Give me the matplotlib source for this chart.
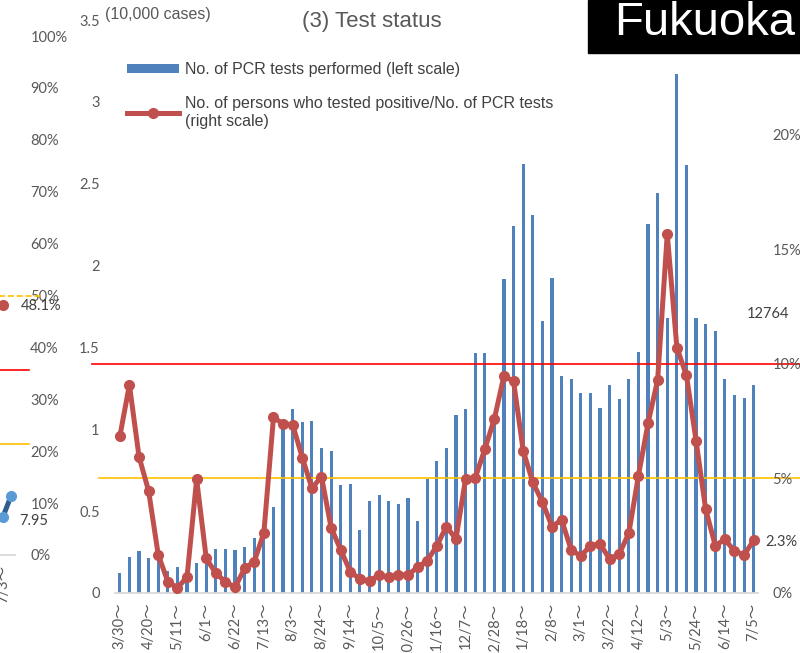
import matplotlib
matplotlib.use("Agg")
import matplotlib.pyplot as plt
from matplotlib.patches import Rectangle, Patch
from matplotlib.lines import Line2D
import numpy as np

W, H, DPI = 800, 653, 100

# Weekly PCR tests (10,000 cases), weeks starting 3/30/2020 ... 7/5/2021
tests = [0.124, 0.221, 0.254, 0.211, 0.20, 0.136, 0.157, 0.11, 0.183, 0.22,
         0.268, 0.266, 0.264, 0.283, 0.334, 0.37, 0.524, 1.045, 1.121, 1.047,
         1.051, 0.884, 0.866, 0.660, 0.664, 0.386, 0.565, 0.596, 0.561, 0.545,
         0.579, 0.441, 0.699, 0.805, 0.884, 1.087, 1.124, 1.468, 1.468, 1.05,
         1.917, 2.242, 2.620, 2.307, 1.659, 1.927, 1.323, 1.305, 1.224, 1.224,
         1.132, 1.268, 1.185, 1.309, 1.471, 2.252, 2.445, 1.677, 3.173, 2.614,
         1.677, 1.646, 1.598, 1.309, 1.212, 1.193, 1.270]

# Positive rate (%) per week
positivity = [6.83, 9.08, 5.95, 4.45, 1.67, 0.50, 0.22, 0.70, 4.96, 1.51,
              0.86, 0.49, 0.25, 1.08, 1.37, 2.63, 7.66, 7.38, 7.34, 5.91,
              4.57, 5.08, 2.85, 1.88, 0.93, 0.61, 0.52, 0.79, 0.69, 0.79,
              0.79, 1.12, 1.41, 2.05, 2.90, 2.36, 4.98, 5.01, 6.27, 7.60,
              9.48, 9.23, 6.21, 4.83, 3.97, 2.90, 3.19, 1.88, 1.61, 2.07,
              2.14, 1.48, 1.70, 2.61, 5.12, 7.41, 9.30, 15.66, 10.71, 9.49,
              6.64, 3.65, 2.07, 2.34, 1.83, 1.66, 2.3]

week_labels = ["3/30～", "4/20～", "5/11～", "6/1～", "6/22～", "7/13～", "8/3～",
               "8/24～", "9/14～", "10/5～", "10/26～", "11/16～", "12/7～",
               "12/28～", "1/18～", "2/8～", "3/1～", "3/22～", "4/12～", "5/3～",
               "5/24～", "6/14～", "7/5～"]
label_step = 3

left_ticks = [0, 0.5, 1, 1.5, 2, 2.5, 3, 3.5]
left_tick_labels = ["0", "0.5", "1", "1.5", "2", "2.5", "3", "3.5"]
right_ticks = [0, 5, 10, 15, 20]
right_tick_labels = ["0%", "5%", "10%", "15%", "20%"]
rate_alert, rate_caution = 10, 5

# Neighbouring panel (only its right edge is in view)
prev_x = [-1, 0]
prev_cases = [5.17, 7.95]
prev_occupancy_x = [-1]
prev_occupancy = [48.1]
prev_tick_label = "7/3～"
prev_pct_ticks = list(range(0, 101, 10))
prev_stage_lines = [25, 15]

BAR = "#4f81bd"
LINE = "#c0504d"
TICK = "#595959"
TXT = "#404040"
TICKFONT = ["Lato", "Noto Sans CJK JP", "DejaVu Sans"]
ARIAL = ["Liberation Sans", "DejaVu Sans"]
TICKSIZE = 10.5

fig = plt.figure(figsize=(W / DPI, H / DPI), dpi=DPI)


def fx(px):
    return px / W


def fy(py):
    return 1 - py / H


# ---------------- main panel ----------------
ax = fig.add_axes([fx(115), fy(593), 643.5 / W, (593 - 20) / H])
x = np.arange(len(tests))
ax.bar(x, tests, width=0.33, color=BAR, zorder=2)
ax.set_xlim(-0.5, len(tests) - 0.5)
ax.set_ylim(0, 3.5)
ax.set_yticks(left_ticks)
ax.set_yticklabels(left_tick_labels)
ax.set_xticks(x[::label_step])
ax.set_xticklabels(week_labels, rotation=90, va="top", ha="center")
for s in ["top", "left", "right"]:
    ax.spines[s].set_visible(False)
ax.spines["bottom"].set_color("#d9d9d9")
ax.spines["bottom"].set_linewidth(1.3)
ax.tick_params(axis="both", length=0, colors=TICK)
ax.tick_params(axis="y", pad=11)
ax.tick_params(axis="x", pad=7)
for t in ax.get_yticklabels() + ax.get_xticklabels():
    t.set_fontfamily(TICKFONT)
    t.set_fontsize(TICKSIZE)
    t.set_color(TICK)

ax2 = ax.twinx()
ax2.set_ylim(0, 25)
ax2.set_yticks(right_ticks)
ax2.set_yticklabels(right_tick_labels)
for s in ["top", "left", "right", "bottom"]:
    ax2.spines[s].set_visible(False)
ax2.tick_params(axis="y", length=0, pad=10, colors=TICK)
for t in ax2.get_yticklabels():
    t.set_fontfamily(TICKFONT)
    t.set_fontsize(TICKSIZE)
    t.set_ha("left")

ax2.axhline(rate_alert, xmin=(92 - 115) / 643.5, xmax=(800 - 115) / 643.5,
            color="#ff0000", lw=1.2, clip_on=False, zorder=1)
ax2.axhline(rate_caution, xmin=(99 - 115) / 643.5, xmax=(800 - 115) / 643.5,
            color="#ffc000", lw=1.2, clip_on=False, zorder=1)
ax2.plot(x, positivity, color=LINE, lw=3.6, marker="o", ms=7,
         solid_joinstyle="round", zorder=3, clip_on=False)
ax2.annotate(f"{positivity[-1]:.1f}%", (x[-1], positivity[-1]),
             xytext=(12, -2), textcoords="offset pixels", ha="left",
             va="center", fontsize=TICKSIZE, color=TXT, family=TICKFONT,
             annotation_clip=False)

# legend
handles = [Patch(facecolor=BAR, edgecolor="none"),
           Line2D([], [], color=LINE, lw=3.6, marker="o", ms=7)]
labels = ["No. of PCR tests performed (left scale)",
          "No. of persons who tested positive/No. of PCR tests\n(right scale)"]
leg = fig.legend(handles, labels, loc="upper left",
                 bbox_to_anchor=(fx(127), fy(62)), frameon=False,
                 borderpad=0, borderaxespad=0, handlelength=3.25,
                 handleheight=0.55, handletextpad=0.38, labelspacing=1.2,
                 prop={"family": ARIAL, "size": 11.5})
for t in leg.get_texts():
    t.set_color(TXT)

# titles and labels
fig.text(fx(372), fy(21), "(3) Test status", ha="center", va="center",
         fontsize=16, color=TICK, family=ARIAL)
fig.text(fx(105), fy(14), "(10,000 cases)", ha="left", va="center",
         fontsize=11.5, color=TICK, family=ARIAL)
fig.text(fx(747), fy(314), "12764", ha="left", va="center",
         fontsize=TICKSIZE, color=TXT, family=TICKFONT)
fig.patches.append(Rectangle((fx(588), fy(53)), 212 / W, 53 / H,
                             transform=fig.transFigure, color="black",
                             zorder=5))
fig.text(fx(705), fy(23), "Fukuoka", ha="center", va="center",
         fontsize=34, color="white", family=ARIAL, zorder=6)

# ---------------- neighbouring panel (clipped at left edge) ----------------
axp = fig.add_axes([fx(-400), fy(555), 415 / W, (555 - 36) / H])
axp.set_xlim(-51.375, 0.5)
axp.set_ylim(0, 70)
axp.plot(prev_x, prev_cases, color="#2e5f8f", lw=3.6, marker="o", ms=7,
         mfc="#5b9bd5", mec="#5b9bd5", zorder=3, clip_on=False)
axp.axhline(prev_stage_lines[0], xmax=(29 + 400) / 415, color="#ff0000",
            lw=1.2, clip_on=False)
axp.axhline(prev_stage_lines[1], xmax=(29 + 400) / 415, color="#ffc000",
            lw=1.2, clip_on=False)
axp.annotate(f"{prev_cases[-1]:.2f}", (prev_x[-1], prev_cases[-1]),
             xytext=(8, -25), textcoords="offset pixels", ha="left",
             va="center", fontsize=TICKSIZE, color=TXT, family=TICKFONT,
             annotation_clip=False)
axp.set_yticks([])
axp.set_xticks([prev_x[0]])
axp.set_xticklabels([prev_tick_label], rotation=90, va="top", ha="center")
for s in ["top", "left", "right"]:
    axp.spines[s].set_visible(False)
axp.spines["bottom"].set_color("#d9d9d9")
axp.spines["bottom"].set_linewidth(1.3)
axp.tick_params(axis="x", length=0, pad=7, colors=TICK)
for t in axp.get_xticklabels():
    t.set_fontfamily(TICKFONT)
    t.set_fontsize(TICKSIZE)

axpr = axp.twinx()
axpr.set_ylim(0, 100)
axpr.set_yticks(prev_pct_ticks)
axpr.set_yticklabels([f"{v}%" for v in prev_pct_ticks])
for s in ["top", "left", "right", "bottom"]:
    axpr.spines[s].set_visible(False)
axpr.tick_params(axis="y", length=0, pad=11, colors=TICK)
for t in axpr.get_yticklabels():
    t.set_fontfamily(TICKFONT)
    t.set_fontsize(TICKSIZE)
axpr.axhline(50, xmax=(40 + 400) / 415, color="#ffc000", lw=1.2, ls="--",
             clip_on=False)
axpr.plot(prev_occupancy_x, prev_occupancy, "o", color=LINE, ms=7,
          clip_on=False, zorder=3)
axpr.annotate(f"{prev_occupancy[-1]:.1f}%",
              (prev_occupancy_x[-1], prev_occupancy[-1]),
              xytext=(18, -1), textcoords="offset pixels", ha="left",
              va="center", fontsize=TICKSIZE, color=TXT, family=TICKFONT,
              annotation_clip=False)

fig.savefig("out.png", dpi=DPI)
